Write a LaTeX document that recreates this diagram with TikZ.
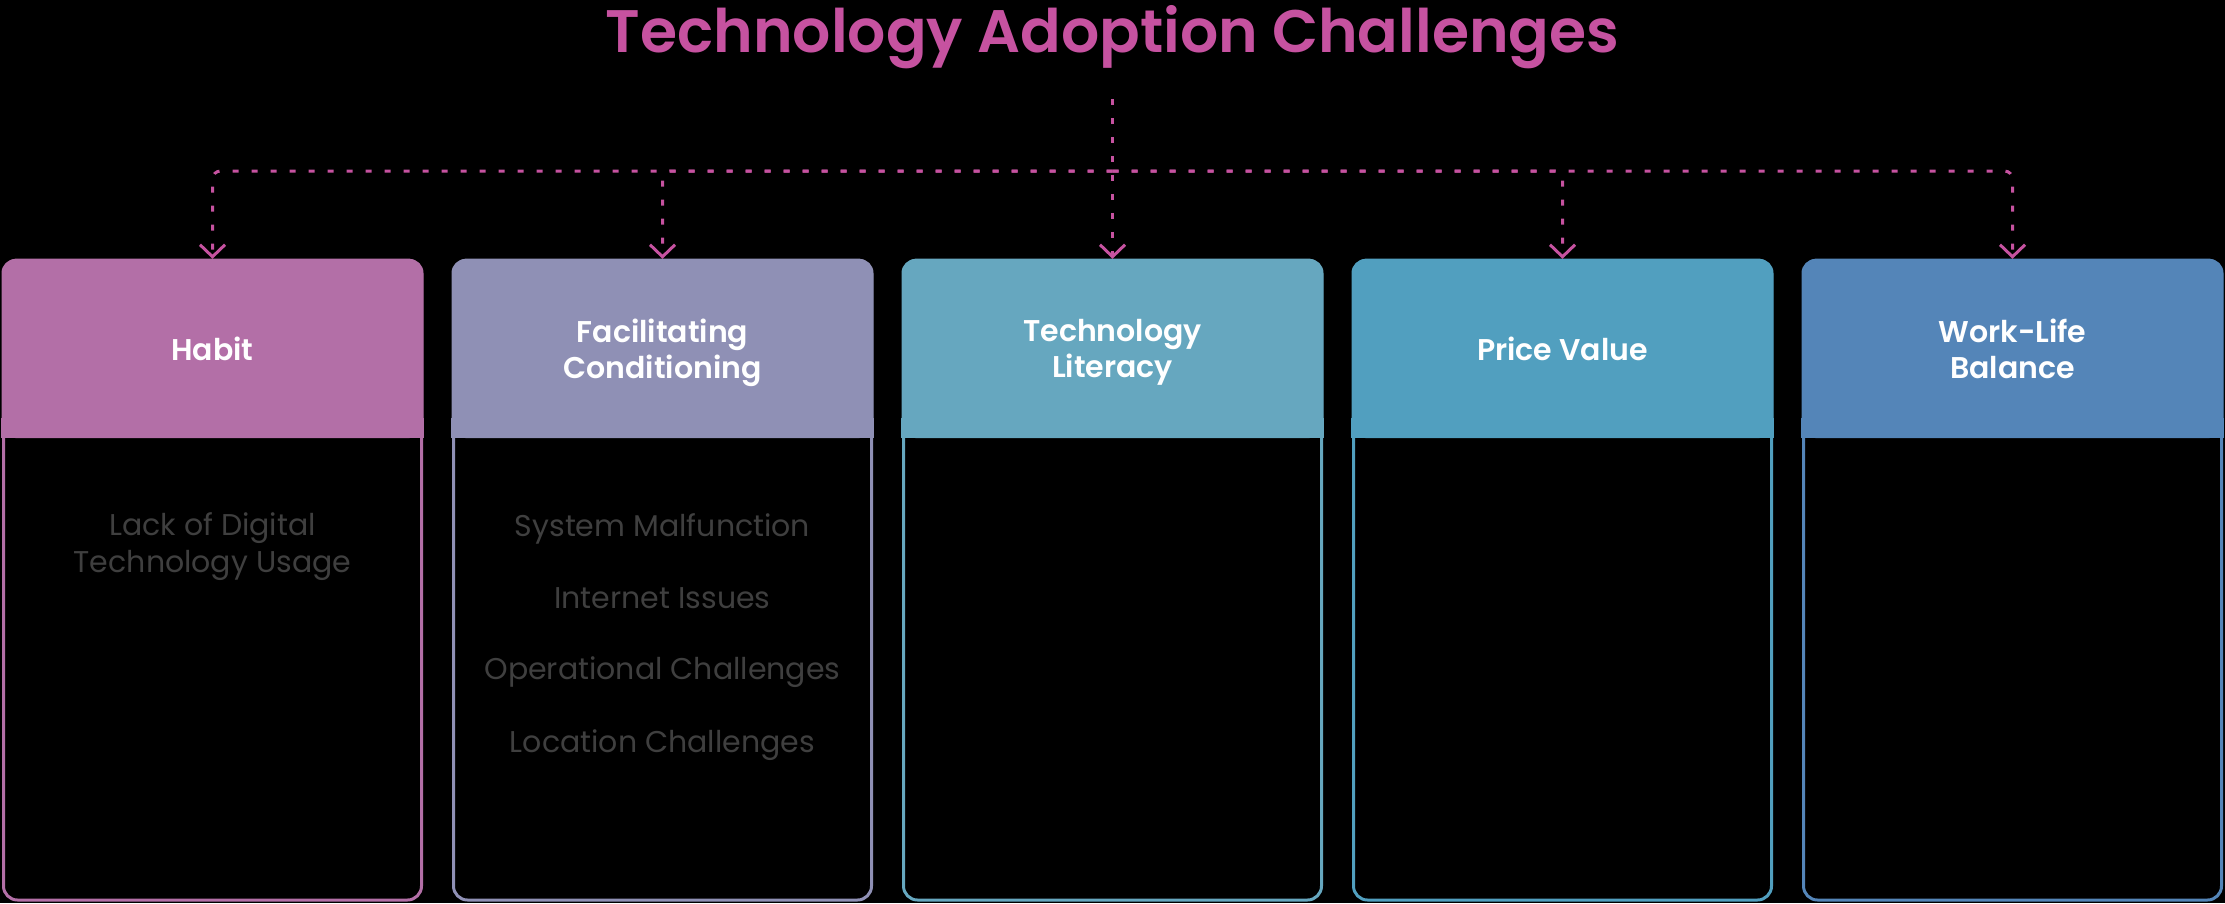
\documentclass[tikz,border=0pt]{standalone}
\usepackage{fontspec}
\setmainfont{Poppins}[BoldFont={Poppins SemiBold}]
\usetikzlibrary{arrows.meta}

\definecolor{habitcol}{HTML}{B36FA7}
\definecolor{facilcol}{HTML}{8F90B5}
\definecolor{techcol}{HTML}{66A7BF}
\definecolor{pricecol}{HTML}{519FBF}
\definecolor{workcol}{HTML}{5485B8}
\definecolor{linkcol}{HTML}{C652A0}
\definecolor{itemgray}{HTML}{3F3F3F}

\newcommand{\nodepth}[1]{\raisebox{0pt}[\height][0pt]{#1}}

\tikzset{
  head/.style={rounded corners=14pt, minimum width=422pt, minimum height=179pt, text=white, align=center, font=\fontsize{30}{36}\selectfont\bfseries},
  body/.style={rounded corners=14pt, minimum width=418pt, minimum height=640pt, line width=3pt, fill=black},
  item/.style={anchor=base, text=itemgray, align=center, font=\fontsize{30}{37}\selectfont},
  link/.style={draw=linkcol, line width=3pt, dash pattern=on 6pt off 13pt, -{Straight Barb[length=12pt,width=25pt]}},
}

\begin{document}
\begin{tikzpicture}[x=1pt,y=-1pt]
                \fill[black] (0,0) rectangle (2225,903);
                \useasboundingbox (0,0) rectangle (2225,903);

                \node[anchor=base, text=linkcol, font=\fontsize{60}{70}\selectfont\bfseries] (title) at (1112.5,52) {Technology Adoption Challenges};

                % columns
                \node[body, draw=habitcol] (habitbox) at (212.5,580) {};
                \node[head, fill=habitcol] (habit) at (212.5,348.5) {Habit};
                \fill[habitcol] ([yshift=20pt]habit.south west) rectangle (habit.south east);

                \node[body, draw=facilcol] (facilbox) at (662.5,580) {};
                \node[head, fill=facilcol] (facil) at (662.5,348.5) {Facilitating\\\nodepth{Conditioning}};
                \fill[facilcol] ([yshift=20pt]facil.south west) rectangle (facil.south east);

                \node[body, draw=techcol] (techbox) at (1112.5,580) {};
                \node[head, fill=techcol] (tech) at (1112.5,348.5) {Technology\\\nodepth{Literacy}};
                \fill[techcol] ([yshift=20pt]tech.south west) rectangle (tech.south east);

                \node[body, draw=pricecol] (pricebox) at (1562.5,580) {};
                \node[head, fill=pricecol] (price) at (1562.5,348.5) {Price Value};
                \fill[pricecol] ([yshift=20pt]price.south west) rectangle (price.south east);

                \node[body, draw=workcol] (workbox) at (2012.5,580) {};
                \node[head, fill=workcol] (work) at (2012.5,348.5) {Work-Life\\Balance};
                \fill[workcol] ([yshift=20pt]work.south west) rectangle (work.south east);

                % items
                \node[item] (lack) at (212.5,572) {Lack of Digital\\Technology Usage};
                \node[item] (malf) at (662.5,536) {System Malfunction};
                \node[item] (inet) at (662.5,608) {Internet Issues};
                \node[item] (oper) at (662.5,679) {Operational Challenges};
                \node[item] (loca) at (662.5,752) {Location Challenges};

                % connectors
                \coordinate (bar) at (1112.5,171);
                \draw[link] ([yshift=-27pt]title.south) -- (tech.north);
                \draw[link, rounded corners=8pt] (bar) -| (habit.north);
                \draw[link, rounded corners=8pt] (bar) -| (facil.north);
                \draw[link, rounded corners=8pt] (bar) -| (price.north);
                \draw[link, rounded corners=8pt] (bar) -| (work.north);
            \end{tikzpicture}
\end{document}
